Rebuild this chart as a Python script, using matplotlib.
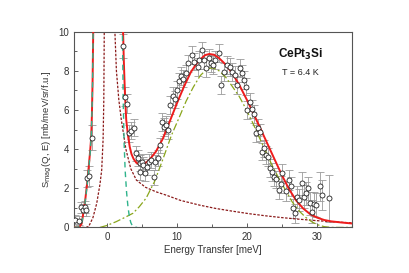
import matplotlib
matplotlib.use("Agg")
import matplotlib.pyplot as plt
from matplotlib.ticker import MultipleLocator

plt.rcParams['font.family'] = ['Liberation Sans', 'DejaVu Sans']

# ---- measured data ----
energy = [-4.55, -4.05, -3.75, -3.45, -3.15, -2.95, -2.80, -2.50, -2.20,
          2.23, 2.56, 2.89, 3.18, 3.47, 3.80, 4.12, 4.40, 4.65, 4.70, 5.00,
          5.15, 5.50, 5.75, 6.07, 6.30, 6.70, 6.92, 7.25, 7.60, 7.90, 8.20,
          8.44, 8.67, 9.05, 9.38, 9.67, 9.95, 10.24, 10.57, 10.85, 11.29,
          11.52, 12.14, 12.47, 12.94, 13.18, 13.56, 13.89, 14.13, 14.50,
          14.84, 15.07, 15.46, 15.93, 16.27, 16.64, 17.07, 17.55, 17.92,
          18.30, 18.63, 18.97, 19.25, 19.58, 19.82, 20.05, 20.40, 20.76,
          21.00, 21.24, 21.60, 21.85, 22.18, 22.42, 22.66, 22.94, 23.25,
          23.50, 23.80, 24.10, 24.50, 24.79, 25.05, 25.50, 25.97, 26.21,
          26.50, 26.80, 27.15, 27.45, 27.87, 28.10, 28.44, 28.72, 28.92,
          29.30, 29.53, 29.86, 30.48, 30.72, 31.67]
s_mag = [0.40, 0.35, 1.02, 0.88, 1.05, 0.90, 2.50, 2.62, 4.58,
         9.28, 6.68, 6.32, 4.80, 4.95, 5.10, 3.78, 3.55, 2.84, 3.30, 3.36,
         3.19, 2.76, 3.10, 3.35, 3.44, 2.55, 3.32, 3.55, 4.19, 5.40, 5.14,
         5.23, 4.97, 6.25, 6.71, 6.54, 7.02, 7.46, 7.75, 7.60, 7.87,
         8.38, 8.81, 8.47, 8.21, 8.55, 9.06, 8.55, 8.13, 8.64,
         8.38, 8.30, 8.55, 8.90, 7.27, 7.95, 8.30, 8.21, 7.95,
         7.79, 7.27, 8.13, 7.87, 7.53, 7.19, 6.00, 6.40, 6.05,
         5.80, 4.80, 5.10, 4.85, 3.87, 4.04, 3.70, 3.60, 3.02,
         2.84, 2.59, 2.45, 1.90, 2.20, 2.76, 1.87, 2.42, 2.10,
         0.97, 0.72, 1.55, 1.40, 2.25, 1.57, 1.74, 1.99, 1.23,
         0.80, 1.20, 1.15, 2.10, 1.65, 1.48]
s_err = [0.25, 0.25, 0.3, 0.3, 0.3, 0.3, 0.45, 0.5, 0.65,
         0.6, 0.5, 0.5, 0.45, 0.45, 0.45, 0.4, 0.4, 0.4, 0.4, 0.4,
         0.4, 0.4, 0.4, 0.4, 0.4, 0.4, 0.4, 0.4, 0.4, 0.45, 0.45,
         0.45, 0.45, 0.45, 0.45, 0.45, 0.45, 0.45, 0.45, 0.45, 0.45,
         0.45, 0.45, 0.45, 0.45, 0.45, 0.4, 0.45, 0.45, 0.45,
         0.45, 0.45, 0.45, 0.45, 0.45, 0.45, 0.45, 0.45, 0.45,
         0.45, 0.45, 0.45, 0.45, 0.45, 0.45, 0.45, 0.45, 0.45,
         0.45, 0.45, 0.45, 0.45, 0.45, 0.45, 0.45, 0.45, 0.45,
         0.45, 0.45, 0.45, 0.45, 0.45, 0.5, 0.5, 0.5, 0.5,
         0.5, 0.5, 0.55, 0.55, 0.6, 0.6, 0.6, 0.6, 0.6,
         0.6, 0.6, 0.6, 0.75, 0.75, 1.2]

# ---- fit curves ----
total_left_e = [-4.7, -4.2, -3.9, -3.6, -3.35, -3.1, -2.85, -2.6, -2.4, -2.25, -2.15, -2.05, -1.95]
total_left_s = [0.0, 0.0, 0.03, 0.2, 0.8, 1.4, 2.2, 3.1, 3.9, 4.6, 5.7, 7.5, 10.3]
total_right_e = [2.28, 2.4, 2.55, 2.75, 3.0, 3.25, 3.5, 3.8, 4.2, 4.7, 5.3, 6.0, 7.0, 8.0,
                 9.0, 10.0, 11.0, 12.0, 13.0, 14.0, 14.6, 15.3, 16.0, 17.0, 18.0, 19.0,
                 20.0, 21.0, 22.0, 23.0, 24.0, 25.0, 26.0, 27.0, 28.0, 29.0, 30.0, 31.0,
                 32.0, 33.5, 35.0]
total_right_s = [10.3, 8.6, 7.0, 5.5, 4.7, 4.12, 3.75, 3.5, 3.3, 3.22, 3.25, 3.42, 3.88, 4.55,
                 5.45, 6.35, 7.2, 7.95, 8.48, 8.8, 8.86, 8.82, 8.65, 8.3, 7.82, 7.2,
                 6.5, 5.75, 4.98, 4.2, 3.42, 2.65, 1.95, 1.38, 0.97, 0.68, 0.5, 0.38,
                 0.31, 0.25, 0.2]

elastic_left_e = [-4.7, -4.0, -3.6, -3.35, -3.1, -2.85, -2.6, -2.4, -2.25, -2.15, -2.05, -1.97]
elastic_left_s = [0.0, 0.02, 0.2, 0.75, 1.35, 2.1, 3.0, 3.8, 4.6, 5.7, 7.4, 10.3]
elastic_right_e = [2.2, 2.32, 2.45, 2.6, 2.8, 3.0, 3.2, 3.4, 3.6, 3.9, 4.3]
elastic_right_s = [10.3, 6.5, 4.3, 2.9, 1.8, 1.05, 0.55, 0.25, 0.1, 0.02, 0.0]

qe_left_e = [-4.7, -3.0, -2.6, -2.4, -2.0, -1.46, -1.0, -0.75, -0.55, -0.45, -0.38]
qe_left_s = [0.0, 0.0, 0.05, 0.2, 0.5, 1.23, 2.2, 2.93, 4.5, 6.5, 10.3]
qe_right_e = [1.1, 1.35, 1.7, 2.05, 2.7, 3.4, 4.2, 5.5, 7.0, 8.44, 10.5, 13.2, 15.5,
              17.9, 20.3, 22.7, 25.0, 27.4, 29.8, 32.1, 35.0]
qe_right_s = [10.3, 8.0, 6.5, 5.5, 4.0, 3.0, 2.42, 2.05, 1.82, 1.65, 1.38, 1.14, 0.97,
              0.83, 0.7, 0.59, 0.5, 0.42, 0.35, 0.29, 0.23]

inel_e = [-1.0, 0.0, 1.3, 2.5, 3.7, 4.6, 5.6, 6.8, 8.0, 9.2, 10.35, 11.3, 12.3, 13.3,
          14.3, 15.1, 16.0, 17.0, 17.9, 18.9, 19.8, 20.8, 21.7, 22.7, 23.6, 24.55,
          25.5, 26.45, 27.4, 28.35, 29.3, 30.2, 31.0, 32.0, 35.0]
inel_s = [0.0, 0.1, 0.29, 0.5, 0.72, 1.05, 1.5, 2.35, 3.5, 4.7, 5.65, 6.45, 7.15, 7.75,
          8.1, 8.15, 8.0, 7.65, 7.2, 6.68, 6.08, 5.35, 4.63, 3.85, 3.15, 2.5,
          1.9, 1.3, 0.85, 0.52, 0.27, 0.12, 0.04, 0.0, 0.0]

# ---- figure ----
fig = plt.figure(figsize=(4.09, 2.73), dpi=100)
ax = fig.add_axes([0.181, 0.167, 0.680, 0.717])

red = '#ee1c1c'
teal = '#2fb38c'
darkred = '#8b1a1a'
olive = '#8aa61c'

ax.plot(total_left_e, total_left_s, color=red, lw=1.4, zorder=3)
ax.plot(total_right_e, total_right_s, color=red, lw=1.4, zorder=3)
ax.plot(elastic_left_e, elastic_left_s, color=teal, lw=1.0, ls=(0, (4, 3)), zorder=4)
ax.plot(elastic_right_e, elastic_right_s, color=teal, lw=1.0, ls=(0, (4, 3)), zorder=4)
ax.plot(qe_left_e, qe_left_s, color=darkred, lw=0.9, ls=(0, (2, 1.2)), zorder=2)
ax.plot(qe_right_e, qe_right_s, color=darkred, lw=0.9, ls=(0, (2, 1.2)), zorder=2)
ax.plot(inel_e, inel_s, color=olive, lw=0.9, ls=(0, (6, 2, 1.5, 2)), zorder=2)

ax.errorbar(energy, s_mag, yerr=s_err, fmt='none', ecolor='#9a9a9a',
            elinewidth=0.6, capsize=2.6, capthick=0.6, zorder=1)
ax.plot(energy, s_mag, 'o', ms=3.6, mfc='white', mec='#222222', mew=0.6, zorder=5)

ax.set_xlim(-4.7, 35)
ax.set_ylim(0, 10)
ax.xaxis.set_major_locator(MultipleLocator(10))
ax.xaxis.set_minor_locator(MultipleLocator(5))
ax.yaxis.set_major_locator(MultipleLocator(2))
ax.yaxis.set_minor_locator(MultipleLocator(1))
ax.tick_params(which='both', direction='in', colors='#444444', labelcolor='#333333',
               labelsize=7, width=0.6)
ax.tick_params(which='major', length=3)
ax.tick_params(which='minor', length=2)
for sp in ax.spines.values():
    sp.set_color('#555555')
    sp.set_linewidth(0.8)

ax.set_xlabel('Energy Transfer [meV]', fontsize=7, color='#333333', labelpad=2)
ax.set_ylabel('S$_{\\mathrm{mag}}$(Q, E) [mb/meV/sr/f.u.]', fontsize=6.8,
              color='#333333', labelpad=3)

ax.text(0.815, 0.885, 'CePt$_\\mathbf{3}$Si', transform=ax.transAxes, fontsize=8.5,
        fontweight='bold', ha='center', va='center', color='#111111')
ax.text(0.815, 0.79, 'T = 6.4 K', transform=ax.transAxes, fontsize=6.5,
        ha='center', va='center', color='#222222')

fig.savefig('out.png', dpi=100)
